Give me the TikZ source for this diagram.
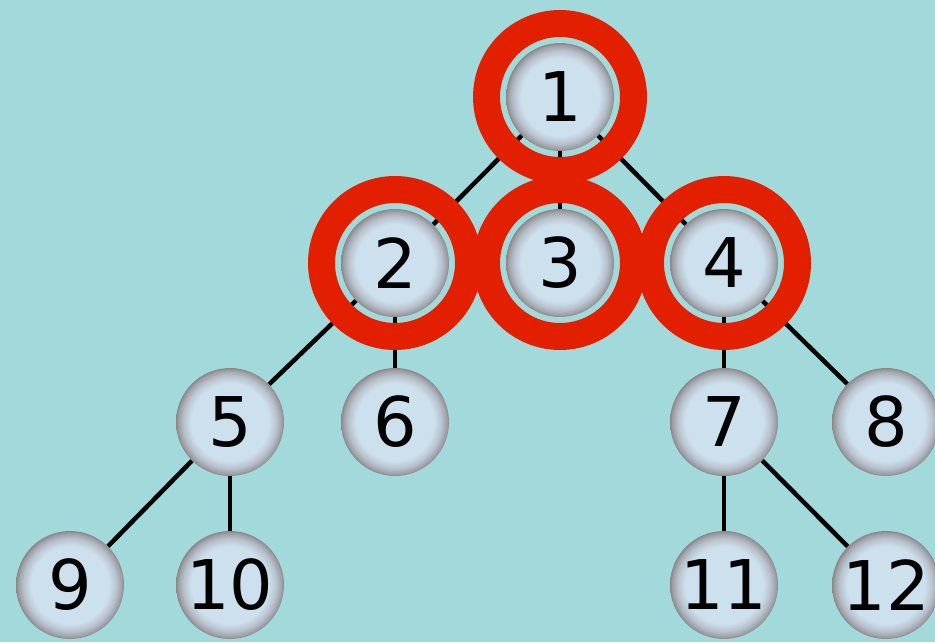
\documentclass[tikz,border=0pt]{standalone}
\usepackage{fontspec}
\setmainfont{DejaVu Sans}
\definecolor{paper}{RGB}{162,217,219}
\definecolor{beadblue}{RGB}{205,224,238}
\definecolor{beadrim}{RGB}{158,158,164}
\definecolor{markred}{RGB}{226,32,0}
\pgfdeclareradialshading{bead}{\pgfpointorigin}{color(0bp)=(beadblue); color(18bp)=(beadblue); color(21.5bp)=(beadrim!45!beadblue); color(24bp)=(beadrim); color(25bp)=(beadrim!85!black); color(50bp)=(beadrim)}

\begin{document}
\begin{tikzpicture}[x=0.02cm, y=-0.02cm,
  ball/.style={circle, shading=bead, minimum size=2.16cm, inner sep=0pt, font=\fontsize{39}{42}\selectfont},
  link/.style={line width=0.09cm, black},
  ring/.style={line width=0.54cm, markred}]
\clip (0, 0) rectangle (935, 642);
\fill[paper] (0, 0) rectangle (935, 642);

\node[ball] (n1) at (560, 97) {1};
\node[ball] (n2) at (395, 263) {2};
\node[ball] (n3) at (560, 263) {3};
\node[ball] (n4) at (724, 263) {4};
\node[ball] (n5) at (230, 422) {5};
\node[ball] (n6) at (395, 422) {6};
\node[ball] (n7) at (724, 422) {7};
\node[ball] (n8) at (886, 422) {8};
\node[ball] (n9) at (70, 585) {9};
\node[ball] (n10) at (230, 585) {10};
\node[ball] (n11) at (724, 585) {11};
\node[ball] (n12) at (886, 585) {12};

\draw[link] (n1) -- (n2);
\draw[link] (n1) -- (n3);
\draw[link] (n1) -- (n4);
\draw[link] (n2) -- (n5);
\draw[link] (n2) -- (n6);
\draw[link] (n4) -- (n7);
\draw[link] (n4) -- (n8);
\draw[link] (n5) -- (n9);
\draw[link] (n5) -- (n10);
\draw[link] (n7) -- (n11);
\draw[link] (n7) -- (n12);

\draw[ring] (n1.center) circle[radius=1.47cm];
\draw[ring] (n2.center) circle[radius=1.47cm];
\draw[ring] (n3.center) circle[radius=1.47cm];
\draw[ring] (n4.center) circle[radius=1.47cm];
\end{tikzpicture}
\end{document}
